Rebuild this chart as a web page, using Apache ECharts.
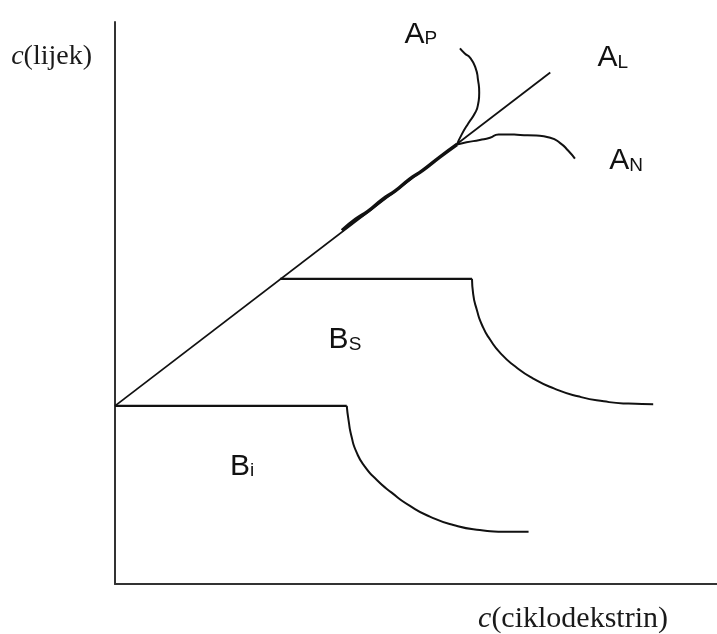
<!DOCTYPE html>
<html>
<head>
<meta charset="utf-8">
<script src="https://cdn.jsdelivr.net/npm/echarts@6/dist/echarts.min.js"></script>
<style>
  html, body { margin: 0; padding: 0; background: #fff; }
  #chart { width: 717px; height: 634px; }
</style>
</head>
<body>
<div id="chart"></div>
<script>
// curves of the phase-solubility sketch (x, y on a 0-100 scale)
const lineAL = [[0, 31.7], [72.3, 91.0]]
const scribble = [[37.7, 62.9], [40.0, 64.9], [42.0, 66.3], [44.5, 68.5], [46.5, 69.9], [49.0, 72.1], [51.0, 73.5], [54.0, 76.0], [56.8, 78.2]]
const curveAP = [[56.8, 78.2], [57.6, 80.0], [58.7, 82.0], [59.8, 83.8], [60.3, 85.3], [60.5, 87.4], [60.3, 89.7], [59.9, 91.8], [59.0, 93.6], [58.1, 94.4], [57.3, 95.3]]
const curveAN = [[56.8, 78.2], [58.4, 78.6], [60.6, 79.0], [62.3, 79.4], [63.7, 80.0], [65.1, 80.0], [67.3, 79.9], [70.0, 79.8], [72.3, 79.4], [73.9, 78.5], [75.3, 77.1], [76.4, 75.7]]
const plateauBS = [[27.4, 54.3], [59.3, 54.3]]
const curveBS = [[59.3, 54.3], [59.5, 51.6], [60.1, 48.8], [61.0, 46.0], [62.3, 43.5], [64.1, 41.0], [66.5, 38.7], [69.4, 36.6], [72.9, 34.8], [76.9, 33.4], [81.2, 32.5], [85.3, 32.1], [89.4, 32.0]]
const plateauBI = [[0, 31.7], [38.5, 31.7]]
const curveBI = [[38.5, 31.7], [38.8, 29.1], [39.3, 26.2], [40.1, 23.5], [41.5, 20.9], [43.5, 18.5], [45.9, 16.3], [49.0, 13.9], [52.3, 12.0], [56.2, 10.5], [60.6, 9.6], [64.5, 9.3], [68.7, 9.3]]

// curve labels: x, y, letter, subscript
const labels = [
  [50.8, 97.8, 'A', 'P'],
  [82.7, 93.6, 'A', 'L'],
  [84.9, 75.3, 'A', 'N'],
  [38.2, 43.4, 'B', 'S'],
  [21.1, 20.9, 'B', 'i']
]

const ink = '#111'

function curve (data, smooth, width) {
  return {
    type: 'line',
    data: data,
    smooth: smooth,
    showSymbol: false,
    silent: true,
    lineStyle: { color: ink, width: width || 2 }
  }
}

const chart = echarts.init(document.getElementById('chart'))
chart.setOption({
  animation: false,
  grid: { left: 115, right: 0, top: 22, bottom: 48 },
  xAxis: {
    type: 'value',
    min: 0,
    max: 100,
    name: '{i|c}(ciklodekstrin)',
    nameLocation: 'end',
    nameGap: -49,
    nameTextStyle: {
      fontFamily: 'Liberation Serif',
      fontSize: 30,
      color: '#1a1a1a',
      align: 'right',
      verticalAlign: 'top',
      padding: [20, 0, 0, 0],
      rich: { i: { fontFamily: 'Liberation Serif', fontSize: 30, fontStyle: 'italic', color: '#1a1a1a' } }
    },
    axisLine: { show: true, lineStyle: { color: '#333', width: 2 } },
    axisTick: { show: false },
    axisLabel: { show: false },
    splitLine: { show: false }
  },
  yAxis: {
    type: 'value',
    min: 0,
    max: 100,
    name: '{i|c}(lijek)',
    nameLocation: 'end',
    nameGap: -35,
    nameTextStyle: {
      fontFamily: 'Liberation Serif',
      fontSize: 28,
      color: '#1a1a1a',
      align: 'right',
      verticalAlign: 'middle',
      padding: [0, 23, 0, 0],
      rich: { i: { fontFamily: 'Liberation Serif', fontSize: 28, fontStyle: 'italic', color: '#1a1a1a' } }
    },
    axisLine: { show: true, lineStyle: { color: '#333', width: 2 } },
    axisTick: { show: false },
    axisLabel: { show: false },
    splitLine: { show: false }
  },
  series: [
    curve(lineAL, false, 1.8),
    curve(scribble, 0.5, 3.5),
    curve(curveAP, 0.6),
    curve(curveAN, 0.6),
    curve(plateauBS, false, 2.2),
    curve(curveBS, 0.6),
    curve(plateauBI, false, 2.2),
    curve(curveBI, 0.6),
    {
      type: 'scatter',
      symbolSize: 0,
      silent: true,
      itemStyle: { opacity: 1 },
      data: labels.map(l => ({ value: [l[0], l[1]], main: l[2], sub: l[3] })),
      label: {
        show: true,
        position: 'inside',
        formatter: p => '{m|' + p.data.main + '}{s|' + p.data.sub + '}',
        rich: {
          m: { fontFamily: 'Liberation Sans', fontSize: 30, color: '#111', verticalAlign: 'bottom' },
          s: { fontFamily: 'Liberation Sans', fontSize: 19, color: '#111', verticalAlign: 'bottom', padding: [0, 0, 1, 0] }
        }
      }
    }
  ]
})
</script>
</body>
</html>
